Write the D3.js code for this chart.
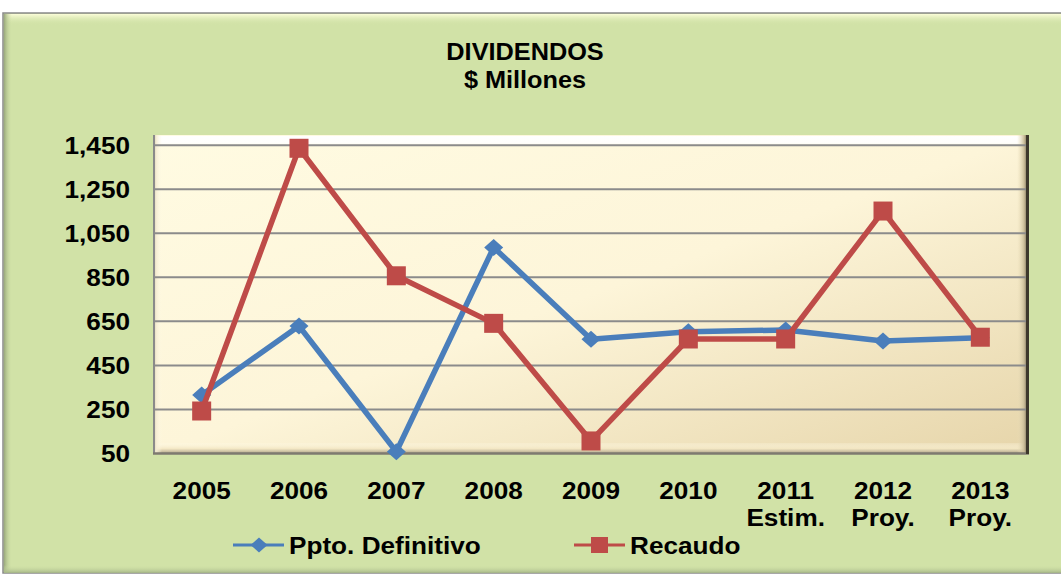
<!DOCTYPE html>
<html>
<head>
<meta charset="utf-8">
<script src="https://cdn.jsdelivr.net/npm/d3@7/dist/d3.min.js"></script>
<style>
  html, body { margin: 0; padding: 0; background: #ffffff; }
  svg { display: block; }
  text { font-family: "Liberation Sans", Arial, sans-serif; font-weight: bold; fill: #000; }
</style>
</head>
<body>
<div id="chart"></div>
<script>
// Dividend series, $ millions
const categories = ["2005", "2006", "2007", "2008", "2009", "2010", "2011", "2012", "2013"];
const categorySubLabels = ["", "", "", "", "", "", "Estim.", "Proy.", "Proy."];
const pptoDefinitivo = [316, 629, 58, 986, 569, 603, 611, 561, 576];
const recaudo = [243, 1436, 857, 641, 107, 570, 570, 1151, 578];
const yTicks = [50, 250, 450, 650, 850, 1050, 1250, 1450];
const seriesNames = ["Ppto. Definitivo", "Recaudo"];
const titleLines = ["DIVIDENDOS", "$ Millones"];

const W = 1061, H = 579;
const plot = { left: 153, right: 1029, top: 135, bottom: 454 };
const WIDEN = "scale(1.09,1)"; // slightly wide lettering

const svg = d3.select("#chart").append("svg")
  .attr("width", W).attr("height", H);

const defs = svg.append("defs");
function linGrad(id, x1, y1, x2, y2, stops) {
  const g = defs.append("linearGradient").attr("id", id)
    .attr("x1", x1).attr("y1", y1).attr("x2", x2).attr("y2", y2);
  stops.forEach(s => g.append("stop").attr("offset", s[0])
    .attr("stop-color", s[1]).attr("stop-opacity", s[2] === undefined ? 1 : s[2]));
}
linGrad("plotFill", "0%", "0%", "100%", "100%", [[0, "#fffbe2"], [0.5, "#fdf5d9"], [1, "#e6d5aa"]]);
linGrad("outerTop", "0", "0", "0", "1", [[0, "#fbfdd8"], [1, "#d1e2a7", 0]]);
linGrad("outerLeft", "0", "0", "1", "0", [[0, "#9aa97c"], [1, "#d1e2a7", 0]]);
linGrad("outerBottom", "0", "0", "0", "1", [[0, "#d1e2a7", 0], [1, "#a6b688"]]);
linGrad("plotTop", "0", "0", "0", "1", [[0, "#ffffff"], [0.7, "#ffffff", 0.9], [1, "#ffffff", 0]]);
linGrad("plotBottom", "0", "0", "0", "1", [[0, "#fffbe8", 0.2], [0.5, "#f3e7c4", 0.9], [1, "#a59a80"]]);
linGrad("plotRight", "0", "0", "1", "0", [[0, "#ece0bb", 0], [0.6, "#c9bc98"], [1, "#4a4233"]]);
linGrad("plotLeft", "0", "0", "1", "0", [[0, "#9a927c"], [0.3, "#f3ead0"], [1, "#fffbe6", 0]]);

// Chart area with soft bevel
svg.append("rect").attr("x", 3).attr("y", 13).attr("width", W + 10).attr("height", 560)
  .attr("fill", "#d1e2a7").attr("stroke", "#8a8a8a").attr("stroke-width", 1.5);
svg.append("rect").attr("x", 4).attr("y", 14).attr("width", W).attr("height", 11).attr("fill", "url(#outerTop)");
svg.append("rect").attr("x", 4).attr("y", 14).attr("width", 8).attr("height", 558).attr("fill", "url(#outerLeft)");
svg.append("rect").attr("x", 4).attr("y", 565).attr("width", W).attr("height", 8).attr("fill", "url(#outerBottom)");

// Title
titleLines.forEach((t, i) => {
  svg.append("g").attr("transform", `translate(525,${60 + i * 28}) scale(1.1,1)`)
    .append("text").attr("text-anchor", "middle").attr("font-size", 23)
    .text(t);
});

// Scales
const x = d3.scaleBand().domain(categories).range([plot.left, plot.right]);
const cx = d => x(d) + x.bandwidth() / 2;
const y = d3.scaleLinear().domain([50, 1450]).range([453.5, 145.2]);

// Plot area with bevel
svg.append("rect").attr("x", plot.left).attr("y", plot.top)
  .attr("width", plot.right - plot.left).attr("height", plot.bottom - plot.top)
  .attr("fill", "url(#plotFill)");
svg.append("rect").attr("x", plot.left).attr("y", plot.top + 1)
  .attr("width", plot.right - plot.left - 3).attr("height", 10).attr("fill", "url(#plotTop)");
svg.append("rect").attr("x", plot.left).attr("y", plot.bottom - 11)
  .attr("width", plot.right - plot.left).attr("height", 11).attr("fill", "url(#plotBottom)");
svg.append("rect").attr("x", plot.left).attr("y", plot.top)
  .attr("width", 9).attr("height", plot.bottom - plot.top).attr("fill", "url(#plotLeft)");
svg.append("rect").attr("x", plot.right - 12).attr("y", plot.top)
  .attr("width", 12).attr("height", plot.bottom - plot.top).attr("fill", "url(#plotRight)");

// Horizontal gridlines
svg.append("g").selectAll("line").data(yTicks.filter(v => v > 50)).join("line")
  .attr("x1", plot.left).attr("x2", plot.right - 2)
  .attr("y1", d => y(d)).attr("y2", d => y(d))
  .attr("stroke", "#8b8b8b").attr("stroke-width", 2);

// Frame edges
svg.append("line").attr("x1", plot.left + 1).attr("x2", plot.left + 1)
  .attr("y1", plot.top).attr("y2", plot.bottom)
  .attr("stroke", "#8a8a8a").attr("stroke-width", 2);
svg.append("line").attr("x1", plot.left).attr("x2", plot.right)
  .attr("y1", plot.bottom - 0.5).attr("y2", plot.bottom - 0.5)
  .attr("stroke", "#7e7a70").attr("stroke-width", 2.5);
svg.append("line").attr("x1", plot.right - 1.5).attr("x2", plot.right - 1.5)
  .attr("y1", plot.top).attr("y2", plot.bottom)
  .attr("stroke", "#3d382c").attr("stroke-width", 3);

// Y axis labels
const yAxis = d3.axisLeft(y).tickValues(yTicks).tickFormat(d3.format(",")).tickSize(0).tickPadding(0);
const yg = svg.append("g").attr("transform", "translate(130,0)").call(yAxis);
yg.select(".domain").remove();
yg.selectAll("text").attr("font-size", 24)
  .attr("font-family", "Liberation Sans, Arial, sans-serif").attr("font-weight", "bold")
  .attr("fill", "#000").attr("dy", "0.35em").attr("transform", WIDEN);

// X axis labels (two lines)
const xAxis = d3.axisBottom(x).tickSize(0).tickPadding(0).tickFormat(() => "");
const xg = svg.append("g").attr("transform", `translate(0,${plot.bottom})`).call(xAxis);
xg.select(".domain").remove();
xg.selectAll(".tick").each(function (d, i) {
  const t = d3.select(this);
  t.select("text").remove();
  t.append("text").attr("y", 45).attr("text-anchor", "middle")
    .attr("font-size", 24).attr("transform", WIDEN).text(categories[i]);
  if (categorySubLabels[i]) {
    t.append("text").attr("y", 72).attr("text-anchor", "middle")
      .attr("font-size", 24).attr("transform", WIDEN).text(categorySubLabels[i]);
  }
});

// Series
const colors = ["#4a7ebb", "#be4b48"];
const seriesData = [pptoDefinitivo, recaudo];
const line = d3.line().x((d, i) => cx(categories[i])).y(d => y(d));
const diamond = (px, py, hw, hh) => `M${px},${py - hh}L${px + hw},${py}L${px},${py + hh}L${px - hw},${py}Z`;

seriesData.forEach((vals, s) => {
  const g = svg.append("g");
  g.append("path").datum(vals).attr("d", line)
    .attr("fill", "none").attr("stroke", colors[s]).attr("stroke-width", 5.5)
    .attr("stroke-linejoin", "round");
  if (s === 0) {
    g.selectAll("path.mk").data(vals).join("path").attr("class", "mk")
      .attr("d", (d, i) => diamond(cx(categories[i]), y(d), 9.5, 8.5))
      .attr("fill", colors[s]);
  } else {
    g.selectAll("rect.mk").data(vals).join("rect").attr("class", "mk")
      .attr("x", (d, i) => cx(categories[i]) - 9.5).attr("y", d => y(d) - 9.5)
      .attr("width", 19).attr("height", 19)
      .attr("fill", colors[s]);
  }
});

// Legend
const legendY = 545;
const legendX = [233, 574];
seriesNames.forEach((name, s) => {
  const g = svg.append("g").attr("transform", `translate(${legendX[s]},${legendY})`);
  g.append("line").attr("x1", 0).attr("x2", 51).attr("y1", 0).attr("y2", 0)
    .attr("stroke", colors[s]).attr("stroke-width", 3);
  if (s === 0) {
    g.append("path").attr("d", diamond(26, 0, 8.5, 7.5)).attr("fill", colors[s]);
  } else {
    g.append("rect").attr("x", 17).attr("y", -8).attr("width", 17).attr("height", 16).attr("fill", colors[s]);
  }
  g.append("g").attr("transform", `translate(56,8.5) ${WIDEN}`)
    .append("text").attr("font-size", 24).text(name);
});
</script>
</body>
</html>
